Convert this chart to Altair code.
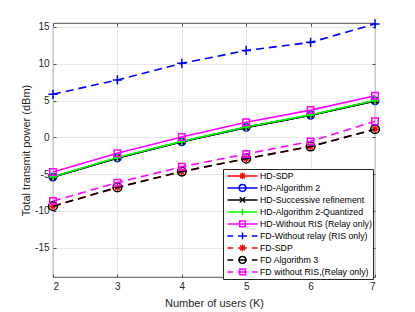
import altair as alt
import pandas as pd

# ---- data ----
users = [2, 3, 4, 5, 6, 7]
series_names = [
    "HD-SDP",
    "HD-Algorithm 2",
    "HD-Successive refinement",
    "HD-Algorithm 2-Quantized",
    "HD-Without RIS (Relay only)",
    "FD-Without relay (RIS only)",
    "FD-SDP",
    "FD Algorithm 3",
    "FD without RIS,(Relay only)",
]
hd_sdp = [-5.4, -2.8, -0.6, 1.35, 3.0, 4.95]
hd_alg2 = [-5.4, -2.8, -0.6, 1.35, 3.0, 4.95]
hd_sr = [-5.4, -2.8, -0.6, 1.35, 3.0, 4.95]
hd_alg2q = [-5.35, -2.75, -0.55, 1.4, 3.05, 5.0]
hd_noris = [-4.7, -2.15, 0.05, 2.05, 3.7, 5.65]
fd_norelay = [5.85, 7.8, 10.05, 11.8, 12.9, 15.4]
fd_sdp = [-9.35, -6.8, -4.65, -2.9, -1.25, 1.1]
fd_alg3 = [-9.35, -6.8, -4.65, -2.9, -1.25, 1.1]
fd_noris = [-8.65, -6.15, -4.0, -2.25, -0.55, 2.2]
series_values = [hd_sdp, hd_alg2, hd_sr, hd_alg2q, hd_noris,
                 fd_norelay, fd_sdp, fd_alg3, fd_noris]
y_ticks = [-15, -10, -5, 0, 5, 10, 15]

# ---- styles ----
colors = ["#ff0000", "#0000ff", "#000000", "#00ff00", "#ff00ff",
          "#0000ff", "#ff0000", "#000000", "#ff00ff"]
dashed = [False, False, False, False, False, True, True, True, True]
ASTER = "M-1,0H1M0,-1V1M-0.7,-0.7L0.7,0.7M-0.7,0.7L0.7,-0.7"
XMARK = "M-0.8,-0.8L0.8,0.8M-0.8,0.8L0.8,-0.8"
PLUS = "M-1,0H1M0,-1V1"
markers = [ASTER, "circle", XMARK, PLUS, "square", PLUS, ASTER, "circle", "square"]
msizes = [45, 55, 40, 60, 42, 85, 45, 75, 42]


def circ(r):
    return f"M{r},0A{r},{r} 0 1,1 -{r},0A{r},{r} 0 1,1 {r},0Z"


r = 0.22
leg_marks = {
    ASTER: f"M-{r},0H{r}M0,-{r}V{r}M-{r*0.7},-{r*0.7}L{r*0.7},{r*0.7}M-{r*0.7},{r*0.7}L{r*0.7},-{r*0.7}",
    "circle": circ(r),
    XMARK: f"M-{r*0.8},-{r*0.8}L{r*0.8},{r*0.8}M-{r*0.8},{r*0.8}L{r*0.8},-{r*0.8}",
    PLUS: f"M-{r},0H{r}M0,-{r}V{r}",
    "square": f"M-{r*0.85},-{r*0.85}H{r*0.85}V{r*0.85}H-{r*0.85}Z",
}
legend_paths = []
for m, d in zip(markers, dashed):
    line = "M-1,0H-0.62M-0.3,0H0.3M0.62,0H1" if d else "M-1,0H1"
    legend_paths.append(line + leg_marks[m])

FONT = "Liberation Sans"
TICK = dict(ticks=True, tickSize=3, tickColor="#262626", tickWidth=0.8, offset=-3)
xscale = alt.Scale(domain=[2, 7], nice=False, zero=False)
yscale = alt.Scale(domain=[-18.97, 15.53], nice=False, zero=False)
xaxis = alt.Axis(values=users, title="Number of users (K)", labelPadding=4,
                 titleX=161, titleY=29, titleBaseline="middle", titleAlign="center",
                 **TICK)
yaxis = alt.Axis(values=y_ticks, title="Total transmit power (dBm)",
                 labelExpr="toString(datum.value)", labelPadding=4,
                 titleX=-30, titleY=127, titleAngle=270, titleAlign="center",
                 titleBaseline="middle", **TICK)
xaxis_top = alt.Axis(values=users, orient="top", labels=False, title=None,
                     grid=False, **TICK)
yaxis_right = alt.Axis(values=y_ticks, orient="right", labels=False, title=None,
                       grid=False, **TICK)

layers = []
for name, vals, col, d, m, ms in zip(series_names, series_values, colors,
                                     dashed, markers, msizes):
    df = pd.DataFrame({"users": users, "power": vals, "series": name})
    enc = dict(x=alt.X("users:Q", scale=xscale, axis=xaxis),
               y=alt.Y("power:Q", scale=yscale, axis=yaxis))
    lkw = dict(color=col, strokeWidth=1.6)
    if d:
        lkw["strokeDash"] = [8, 5]
    layers.append(alt.Chart(df).mark_line(**lkw).encode(**enc))
    layers.append(alt.Chart(df).mark_point(shape=m, size=ms, filled=False,
                                           color=col, strokeWidth=1.5,
                                           opacity=1).encode(**enc))

leg_df = pd.DataFrame({"users": [users[0]] * len(series_names),
                       "power": [v[0] for v in series_values],
                       "series": series_names})
legend = alt.Legend(title=None, orient="none", legendX=170, legendY=146,
                    symbolSize=900, symbolStrokeWidth=1.5,
                    symbolFillColor="transparent", symbolOpacity=1,
                    labelFont=FONT, labelFontSize=8.8, labelColor="#000000",
                    labelOffset=1.5, symbolOffset=2.5,
                    strokeColor="#262626", fillColor="white",
                    padding=1, clipHeight=11.8, rowPadding=0, cornerRadius=0,
                    labelLimit=300)
leg_layer = alt.Chart(leg_df).mark_point(size=0, filled=False).encode(
    x=alt.X("users:Q", scale=xscale, axis=xaxis_top),
    y=alt.Y("power:Q", scale=yscale, axis=yaxis_right),
    color=alt.Color("series:N", scale=alt.Scale(domain=series_names, range=colors),
                    legend=legend, sort=series_names),
    shape=alt.Shape("series:N", scale=alt.Scale(domain=series_names, range=legend_paths),
                    legend=legend, sort=series_names),
)

chart = alt.layer(alt.layer(*layers), leg_layer).resolve_axis(
    x="independent", y="independent"
).properties(
    width=322, height=254,
    autosize=alt.AutoSizeParams(type="none"),
    padding={"left": 45, "top": 15, "right": 30, "bottom": 38},
).configure_view(stroke="#262626", strokeWidth=0.8).configure_axis(
    domain=False, grid=True, gridColor="#e2e2e2", gridWidth=0.8,
    labelFont=FONT, labelFontSize=10, labelColor="#262626",
    titleFont=FONT, titleFontSize=11, titleFontWeight="normal", titleColor="#262626",
)

chart.save("out.html", embed_options={"renderer": "svg", "actions": False})
